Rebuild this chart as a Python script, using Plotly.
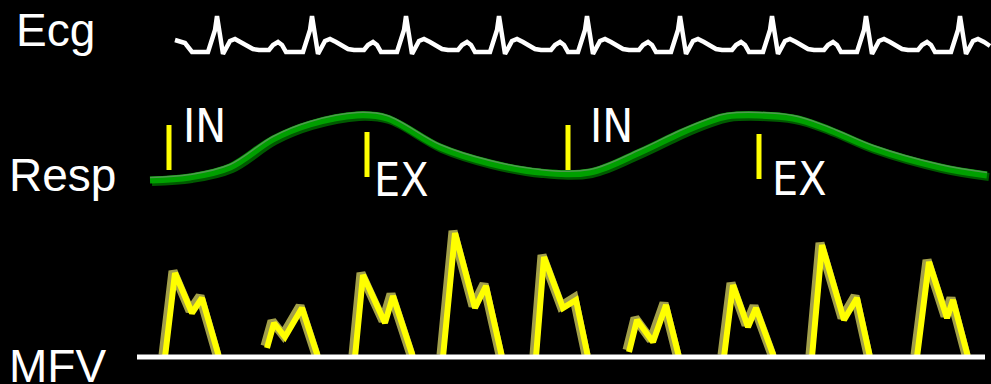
import numpy as np
import plotly.graph_objects as go

# ---- data (x = time units, y = screen units, downward) ----
ecg_r_peaks = [217, 312, 406, 499, 587, 680, 772, 866, 960]
ecg_start = (175, 40)
ecg_end_x = 991
ecg_r_top = 16

resp_x = [150, 190, 230, 273, 310, 357, 387, 440, 490, 540, 590, 640, 680, 707, 727, 793, 830, 873, 940, 987]
resp_y = [180, 177, 167, 139, 124, 115, 118, 147, 163, 172, 172, 152, 133, 122, 116, 118, 130, 148, 167, 175]

marker_x = [169, 367, 568, 759]
marker_top = [125, 132, 125, 134]
marker_bot = [170, 177, 170, 179]
phase_labels = ["IN", "EX", "IN", "EX"]
phase_label_x = [181, 372, 588, 770]
phase_label_y = [126, 180, 126, 179]

mfv_baseline = 357
mfv_start_x = [165, 267, 355, 443, 536, 629, 724, 812, 917]
mfv_start_y = [357, 348, 357, 357, 357, 352, 357, 357, 357]
mfv_e_x = [175, 274, 363, 455, 544, 637, 733, 822, 929]
mfv_e_y = [273, 323, 275, 233, 257, 320, 285, 245, 262]
mfv_dip_x = [192, 285, 385, 475, 563, 653, 748, 844, 947]
mfv_dip_y = [313, 337, 323, 308, 308, 342, 327, 320, 318]
mfv_a_x = [202, 302, 393, 486, 576, 666, 756, 857, 953]
mfv_a_y = [298, 308, 296, 286, 300, 305, 308, 298, 300]
mfv_end_x = [219, 318, 413, 502, 588, 679, 774, 870, 968]

row_labels = ["Ecg", "Resp", "MFV"]
row_label_x = [14, 7, 7]
row_label_y = [30, 175, 366]

# ---- build ECG from beat template ----
tmpl_dx = [-9, -2, 0, 6, 13, 18, 24, 30, 36, 42, 52, 56, 61, 65, 69]
tmpl_y = [52, 30, ecg_r_top, 54, 41, 39, 42, 46, 49, 50, 50, 45, 42, 45, 52]
ex, ey = [ecg_start[0], 185, 192], [ecg_start[1], 43, 52]
for r in ecg_r_peaks:
    for dx, yy in zip(tmpl_dx, tmpl_y):
        if r + dx <= ecg_end_x:
            ex.append(r + dx)
            ey.append(yy)

# ---- MFV complexes ----
mx, my = [], []
for i in range(len(mfv_start_x)):
    mx += [mfv_start_x[i], mfv_e_x[i], mfv_dip_x[i], mfv_a_x[i], mfv_end_x[i], None]
    my += [mfv_start_y[i], mfv_e_y[i], mfv_dip_y[i], mfv_a_y[i], mfv_baseline, None]

def shift(vals, d):
    return [None if v is None else v + d for v in vals]

fig = go.Figure()

# ECG
fig.add_trace(go.Scatter(x=ex, y=ey, mode="lines", line=dict(color="white", width=4.5)))

# Resp (shadow, body, highlight)
fig.add_trace(go.Scatter(x=shift(resp_x, 2), y=shift(resp_y, 2), mode="lines",
                         line=dict(color="#005a00", width=8, shape="spline", smoothing=1)))
fig.add_trace(go.Scatter(x=resp_x, y=resp_y, mode="lines",
                         line=dict(color="#00a000", width=7, shape="spline", smoothing=1)))
fig.add_trace(go.Scatter(x=resp_x, y=shift(resp_y, -2.5), mode="lines",
                         line=dict(color="#4f9a4f", width=1.5, shape="spline", smoothing=1)))

# Phase markers
bx, by = [], []
for x, t, b in zip(marker_x, marker_top, marker_bot):
    bx += [x, x, None]
    by += [t, b, None]
fig.add_trace(go.Scatter(x=bx, y=by, mode="lines", line=dict(color="#ffff00", width=5)))

# MFV
fig.add_trace(go.Scatter(x=shift(mx, -2), y=shift(my, -2), mode="lines",
                         line=dict(color="#a3a04a", width=9)))
fig.add_trace(go.Scatter(x=mx, y=my, mode="lines", line=dict(color="#ffff00", width=6)))
fig.add_trace(go.Scatter(x=[137, 985], y=[mfv_baseline, mfv_baseline], mode="lines",
                         line=dict(color="white", width=5)))

for lab, xx, yy in zip(row_labels, row_label_x, row_label_y):
    fig.add_annotation(x=xx, y=yy, text=lab, showarrow=False, xanchor="left", yanchor="middle",
                       font=dict(family="Liberation Sans, Arial, sans-serif", size=46, color="white"))
for lab, xx, yy in zip(phase_labels, phase_label_x, phase_label_y):
    fig.add_annotation(x=xx, y=yy, text=lab, showarrow=False, xanchor="left", yanchor="middle",
                       font=dict(family="Liberation Sans Narrow, Arial Narrow, DejaVu Sans Condensed, sans-serif",
                                 size=46, color="white"))

fig.update_layout(
    width=991, height=384, margin=dict(l=0, r=0, t=0, b=0),
    paper_bgcolor="black", plot_bgcolor="black", showlegend=False,
    xaxis=dict(range=[0, 991], visible=False, fixedrange=True),
    yaxis=dict(range=[384, 0], visible=False, fixedrange=True),
)
fig.write_html("out.html", config={"displayModeBar": False},
               post_script="document.body.style.margin='0';document.body.style.background='black';document.body.style.overflow='hidden';")
